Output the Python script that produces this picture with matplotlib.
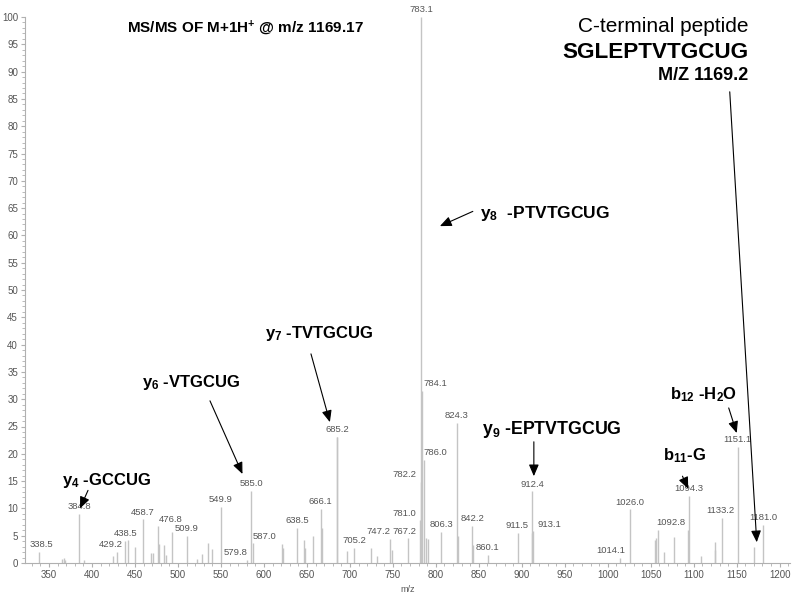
import matplotlib
matplotlib.use("Agg")
import matplotlib.pyplot as plt
from matplotlib.ticker import MultipleLocator

plt.rcParams['font.family'] = ['Liberation Sans', 'DejaVu Sans']
plt.rcParams['mathtext.fontset'] = 'custom'
plt.rcParams['mathtext.rm'] = 'Liberation Sans'
plt.rcParams['mathtext.bf'] = 'Liberation Sans:bold'
plt.rcParams['mathtext.it'] = 'Liberation Sans:italic'

# ---- data: peaks (m/z, relative intensity) ----
peak_mz = [338.5, 365.5, 367.0, 368.5, 384.8, 391.0, 424.0, 429.2, 438.5, 442.0,
           450.0, 458.7, 468.3, 470.6, 476.8, 478.0, 483.7, 485.6, 492.6, 509.9,
           521.7, 527.5, 535.3, 540.0, 549.9, 579.8, 585.0, 587.0, 621.0, 622.0,
           638.5, 646.5, 647.7, 656.6, 666.1, 667.0, 684.7, 685.2, 697.0, 705.2,
           725.0, 732.0, 747.2, 749.0, 767.2, 781.0, 782.2, 783.1, 784.1, 786.0,
           788.4, 790.3, 806.3, 824.3, 825.2, 842.2, 843.5, 860.1, 895.5, 911.5,
           912.4, 913.1, 1014.1, 1026.0, 1054.5, 1056.0, 1058.5, 1065.0, 1077.0, 1092.8,
           1094.3, 1109.0, 1124.4, 1125.2, 1133.2, 1151.1, 1170.0, 1181.0]
peak_int = [2.0, 0.8, 1.0, 0.6, 9.0, 0.6, 1.3, 2.0, 4.0, 4.3,
            2.9, 8.0, 1.8, 1.9, 6.7, 3.4, 3.3, 1.5, 5.7, 5.0,
            0.7, 1.7, 3.6, 2.6, 10.3, 0.6, 13.2, 3.6, 3.5, 2.8,
            6.4, 4.2, 2.8, 5.0, 9.9, 6.5, 23.0, 23.1, 2.2, 2.7,
            2.7, 1.3, 4.4, 2.4, 4.5, 7.8, 14.8, 100.0, 31.5, 18.9,
            4.5, 4.4, 5.7, 25.6, 5.0, 6.8, 3.3, 1.5, 5.5, 5.5,
            13.1, 5.8, 0.9, 9.8, 4.2, 4.5, 6.0, 2.1, 4.8, 6.0,
            12.3, 1.2, 3.9, 2.4, 8.3, 21.3, 3.0, 7.0]

# labelled peaks: m/z, label text, horizontal label shift (pixels)
label_mz = [338.5, 384.8, 429.2, 438.5, 458.7, 476.8, 509.9, 549.9, 579.8, 585.0,
            587.0, 638.5, 666.1, 685.2, 705.2, 747.2, 767.2, 781.0, 782.2, 783.1,
            784.1, 786.0, 806.3, 824.3, 842.2, 860.1, 911.5, 912.4, 913.1, 1014.1,
            1026.0, 1092.8, 1094.3, 1133.2, 1151.1, 1181.0]
label_txt = ["338.5", "384.8", "429.2", "438.5", "458.7", "476.8", "509.9", "549.9", "579.8", "585.0",
             "587.0", "638.5", "666.1", "685.2", "705.2", "747.2", "767.2", "781.0", "782.2", "783.1",
             "784.1", "786.0", "806.3", "824.3", "842.2", "860.1", "911.5", "912.4", "913.1", "1014.1",
             "1026.0", "1092.8", "1094.3", "1133.2", "1151.1", "1181.0"]
label_shift_px = [2, 0, -6, 0, 0, 13, 0, 0, -11, 0,
                  12, 0, 0, 0, 0, -12, -3, -15, -16, 0,
                  13, 11, 0, 0, 0, 0, -15, 0, 16, -9,
                  0, -17, 0, -2, 0, 0]

# fragment annotations: text, text position (m/z, intensity), arrow tail, arrow tip
frag_txt = [r"$\mathbf{y_4}$ -GCCUG", r"$\mathbf{y_6}$ -VTGCUG", r"$\mathbf{y_7}$ -TVTGCUG",
            r"$\mathbf{y_8}$  -PTVTGCUG", r"$\mathbf{y_9}$ -EPTVTGCUG", r"$\mathbf{b_{11}}$-G",
            r"$\mathbf{b_{12}}$ -H$\mathbf{_2}$O"]
frag_size = [12, 12, 12, 12.5, 12.8, 12, 12]
frag_pos = [(365.1, 15.2), (458.1, 33.0), (601.2, 42.1), (851.2, 64.1), (853.5, 24.4),
            (1064.0, 19.6), (1072.0, 30.8)]
frag_tail = [(395.3, 13.3), (537.2, 29.7), (654.7, 38.3), (843.0, 64.4), (914.0, 22.2),
             (1086.9, 15.9), (1140.7, 28.4)]
frag_tip = [(386.0, 10.0), (575.0, 16.3), (676.7, 25.8), (804.7, 61.7), (914.0, 15.9),
            (1093.6, 13.6), (1150.0, 23.8)]
parent_tail = (1141.9, 86.3)
parent_tip = (1173.3, 3.8)

# ---- figure ----
fig = plt.figure(figsize=(8.0, 5.97), dpi=100)
ax = fig.add_axes([25/800, 1-563/597, 765/800, (563-17)/597])
ax.vlines(peak_mz, 0, peak_int, color='#c4c4c4', linewidth=1.0)
ax.set_xlim(322, 1212)
ax.set_ylim(0, 100)

for s in ['top', 'right']:
    ax.spines[s].set_visible(False)
for s in ['left', 'bottom']:
    ax.spines[s].set_color('#b0b0b0')
    ax.spines[s].set_linewidth(0.8)

ax.xaxis.set_major_locator(MultipleLocator(50))
ax.xaxis.set_minor_locator(MultipleLocator(10))
ax.yaxis.set_major_locator(MultipleLocator(5))
ax.yaxis.set_minor_locator(MultipleLocator(1))
ax.set_xticks(range(350, 1201, 50))
ax.tick_params(axis='both', which='major', labelsize=7, colors='#b0b0b0',
               labelcolor='#555555', length=3, width=0.8, direction='out', pad=2)
ax.tick_params(axis='both', which='minor', colors='#b0b0b0', length=2, width=0.6, direction='out')
ax.set_xlabel('m/z', fontsize=6.5, color='#555555', labelpad=4)

pk = dict(zip(peak_mz, peak_int))
for mz, txt, sh in zip(label_mz, label_txt, label_shift_px):
    ax.annotate(txt, xy=(mz, pk[mz]), xytext=(sh * 0.72, 2.0), textcoords='offset points',
                ha='center', va='bottom', fontsize=6.8, color='#555555', annotation_clip=False)

arrow = dict(arrowstyle='-|>,head_length=0.7,head_width=0.3', color='black', lw=0.8,
             shrinkA=0, shrinkB=0)
for txt, fs, pos, tail, tip in zip(frag_txt, frag_size, frag_pos, frag_tail, frag_tip):
    ax.text(pos[0], pos[1], txt, fontsize=fs, fontweight='bold', ha='left', va='center')
    ax.annotate('', xy=tip, xytext=tail, arrowprops=arrow)
ax.annotate('', xy=parent_tip, xytext=parent_tail, arrowprops=arrow, annotation_clip=False)

fig.text(245/800, 1-28/597, r"MS/MS OF M+1H$^{\mathbf{+}}$ @ m/z 1169.17", fontsize=11,
         fontweight='bold', ha='center', va='center')
fig.text(748/800, 1-26/597, "C-terminal peptide", fontsize=15, ha='right', va='center')
fig.text(748/800, 1-52/597, "SGLEPTVTGCUG", fontsize=16.2, fontweight='bold', ha='right', va='center')
fig.text(748/800, 1-76/597, "M/Z 1169.2", fontsize=13, fontweight='bold', ha='right', va='center')

fig.savefig('out.png', dpi=100)
